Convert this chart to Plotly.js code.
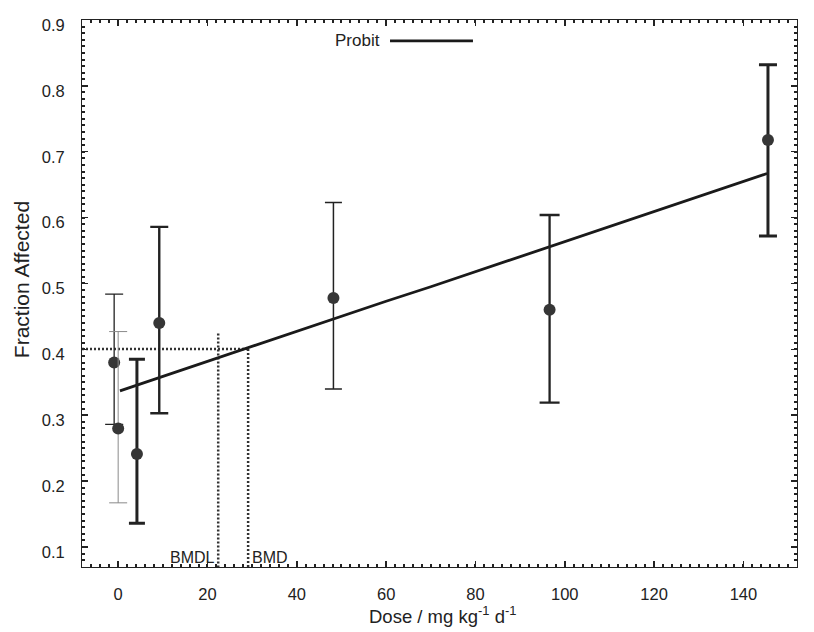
<!DOCTYPE html>
<html>
<head>
<meta charset="utf-8">
<script src="https://cdn.plot.ly/plotly-3.0.1.min.js"></script>
<style>html,body{margin:0;padding:0;background:#fff;}#chart{width:814px;height:632px;}</style>
</head>
<body>
<div id="chart"></div>
<script>
// ---- data ----
const doses      = [-0.9, 0.0, 4.2, 9.2, 48.2, 96.6, 145.5];
const fractions  = [0.380, 0.280, 0.241, 0.440, 0.478, 0.460, 0.718];
const upperCI    = [0.484, 0.427, 0.385, 0.586, 0.623, 0.604, 0.832];
const lowerCI    = [0.286, 0.167, 0.136, 0.303, 0.340, 0.319, 0.572];

const probitDose = [0.4, 10, 20, 29.1, 40, 50, 60, 70, 80, 90, 100, 110, 120, 130, 145.3];
const probitFrac = [0.337, 0.359, 0.382, 0.402, 0.427, 0.450, 0.473, 0.495, 0.518, 0.541, 0.564, 0.587, 0.610, 0.633, 0.667];

const bmdLabels  = ['BMDL', 'BMD'];
const bmdDoses   = [22.4, 29.1];
const bmdLineTop = [0.424, 0.4005];
const bmrLevel   = 0.4005;

const xTickVals  = [0, 20, 40, 60, 80, 100, 120, 140];
const yTickVals  = [0.1, 0.2, 0.3, 0.4, 0.5, 0.6, 0.7, 0.8, 0.9];

// ---- styles (kept apart from the data) ----
const barThick   = [1.3, 1.0, 3.0, 2.4, 1.5, 2.3, 3.0];
const barColor   = ['#222', '#8a8a8a', '#222', '#222', '#222', '#222', '#222'];
const capHalf    = [9, 9, 8, 9, 8.5, 10, 9];
const xRange = [-8.1, 152.0];
const yRange = [0.0696, 0.9];
const FONT = 'Liberation Sans, Arial, sans-serif';
const TXT = '#222';

const traces = [];

// reference dotted lines (BMR level, BMDL, BMD)
const dotLine = {color: '#333', width: 2.5, dash: '2px,2px'};
traces.push({
  x: [xRange[0], bmdDoses[1]], y: [bmrLevel, bmrLevel],
  mode: 'lines', line: dotLine, hoverinfo: 'skip', showlegend: false
});
bmdDoses.forEach((d, i) => {
  traces.push({
    x: [d, d], y: [bmdLineTop[i], yRange[0]],
    mode: 'lines', line: dotLine, hoverinfo: 'skip', showlegend: false
  });
});

// probit fit
traces.push({
  x: probitDose, y: probitFrac, mode: 'lines',
  line: {color: '#1a1a1a', width: 2.8}, name: 'Probit', showlegend: false
});

// data points with individual error bars
doses.forEach((d, i) => {
  traces.push({
    x: [d], y: [fractions[i]], mode: 'markers', showlegend: false,
    marker: {color: '#363636', size: 12},
    error_y: {
      type: 'data', symmetric: false,
      array: [upperCI[i] - fractions[i]],
      arrayminus: [fractions[i] - lowerCI[i]],
      color: barColor[i], thickness: barThick[i], width: capHalf[i]
    }
  });
});

const axisCommon = {
  showgrid: false, zeroline: false, showline: true, linecolor: '#222', linewidth: 1,
  mirror: 'allticks', ticks: 'inside', tickcolor: '#222', tickwidth: 1.5, ticklen: 6,
  tickfont: {family: FONT, size: 16.5, color: TXT}
};

const layout = {
  width: 814, height: 632,
  margin: {l: 82, r: 17, t: 20, b: 65},
  paper_bgcolor: '#fff', plot_bgcolor: '#fff',
  showlegend: false,
  xaxis: Object.assign({}, axisCommon, {
    range: xRange, tickvals: xTickVals, ticktext: xTickVals.map(String),
    ticklabelstandoff: 12,
    minor: {dtick: 2, tick0: 0, ticks: 'inside', ticklen: 3, tickwidth: 2, tickcolor: '#222'}
  }),
  yaxis: Object.assign({}, axisCommon, {
    range: yRange, tickvals: yTickVals, ticktext: yTickVals.map(v => v.toFixed(1)),
    ticklabelstandoff: 13, ticklabelshift: 5,
    minor: {dtick: 0.01, tick0: 0, ticks: 'inside', ticklen: 3, tickwidth: 2, tickcolor: '#222'}
  }),
  annotations: [
    {text: 'Dose / mg kg<sup>-1</sup> d<sup>-1</sup>', xref: 'paper', yref: 'paper',
     x: 0.5035, y: -0.088, xanchor: 'center', yanchor: 'middle', showarrow: false,
     font: {family: FONT, size: 18.5, color: TXT}},
    {text: 'Fraction Affected', xref: 'paper', yref: 'paper', textangle: -90,
     x: -0.0855, y: 0.526, xanchor: 'center', yanchor: 'middle', showarrow: false,
     font: {family: FONT, size: 21, color: TXT}},
    {text: 'Probit', xref: 'paper', yref: 'paper', x: 0.4199, y: 0.962,
     xanchor: 'right', yanchor: 'middle', showarrow: false,
     font: {family: FONT, size: 17, color: TXT}},
    {text: bmdLabels[0], xref: 'x', yref: 'paper', x: bmdDoses[0], y: 0.0168,
     xanchor: 'right', yanchor: 'middle', xshift: -1, showarrow: false,
     font: {family: FONT, size: 16, color: TXT}},
    {text: bmdLabels[1], xref: 'x', yref: 'paper', x: bmdDoses[1], y: 0.0168,
     xanchor: 'left', yanchor: 'middle', xshift: 2, showarrow: false,
     font: {family: FONT, size: 16, color: TXT}}
  ],
  shapes: [
    {type: 'line', xref: 'paper', yref: 'paper', x0: 0.4308, x1: 0.5468, y0: 0.962, y1: 0.962,
     line: {color: '#1a1a1a', width: 2.8}}
  ]
};

Plotly.newPlot('chart', traces, layout, {staticPlot: true, displayModeBar: false});
</script>
</body>
</html>
